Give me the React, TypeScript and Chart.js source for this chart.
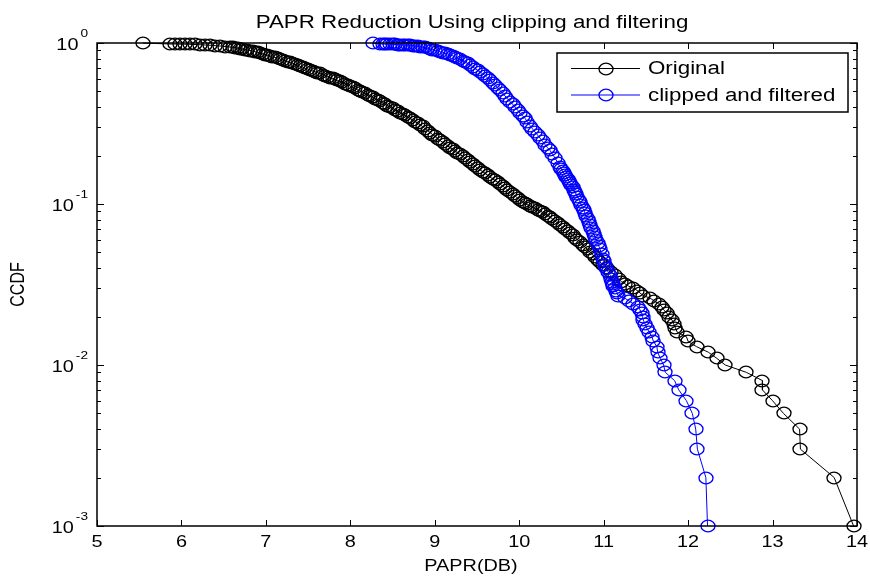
import { useEffect, useRef } from "react";
import { Chart, registerables } from "chart.js";

Chart.register(...registerables);

// ---- data (x = PAPR in dB, y = CCDF) ----
const originalCurve: [number, number][] = [
  [5.545, 0.999], [5.865, 0.986], [5.924, 0.986], [5.983, 0.984], [6.042, 0.983], [6.101, 0.982],
  [6.161, 0.979], [6.22, 0.976], [6.279, 0.972], [6.338, 0.968], [6.397, 0.963], [6.457, 0.958],
  [6.516, 0.951], [6.575, 0.944], [6.605, 0.94], [6.634, 0.935], [6.664, 0.93], [6.694, 0.924],
  [6.723, 0.918], [6.753, 0.911], [6.782, 0.905], [6.812, 0.898], [6.842, 0.891], [6.871, 0.883],
  [6.901, 0.875], [6.93, 0.867], [6.96, 0.858], [6.99, 0.848], [7.019, 0.839], [7.049, 0.83],
  [7.078, 0.822], [7.108, 0.813], [7.138, 0.804], [7.167, 0.795], [7.197, 0.786], [7.227, 0.776],
  [7.256, 0.767], [7.286, 0.757], [7.315, 0.747], [7.345, 0.736], [7.375, 0.727], [7.404, 0.717],
  [7.434, 0.707], [7.463, 0.697], [7.493, 0.689], [7.522, 0.68], [7.552, 0.672], [7.582, 0.663],
  [7.611, 0.655], [7.641, 0.647], [7.671, 0.637], [7.7, 0.628], [7.73, 0.619], [7.759, 0.61],
  [7.789, 0.602], [7.818, 0.594], [7.848, 0.586], [7.878, 0.578], [7.907, 0.569], [7.937, 0.56],
  [7.967, 0.55], [7.996, 0.541], [8.026, 0.531], [8.055, 0.522], [8.085, 0.513], [8.115, 0.503],
  [8.144, 0.495], [8.174, 0.486], [8.204, 0.477], [8.233, 0.469], [8.263, 0.46], [8.292, 0.451],
  [8.322, 0.443], [8.351, 0.434], [8.381, 0.426], [8.411, 0.417], [8.44, 0.409], [8.47, 0.4],
  [8.5, 0.393], [8.529, 0.385], [8.559, 0.378], [8.588, 0.37], [8.618, 0.362], [8.647, 0.355],
  [8.677, 0.347], [8.707, 0.34], [8.737, 0.332], [8.766, 0.325], [8.796, 0.318], [8.825, 0.311],
  [8.855, 0.303], [8.884, 0.294], [8.914, 0.286], [8.944, 0.278], [8.973, 0.27], [9.003, 0.263],
  [9.033, 0.255], [9.062, 0.248], [9.092, 0.242], [9.121, 0.236], [9.151, 0.23], [9.18, 0.224],
  [9.21, 0.219], [9.24, 0.213], [9.269, 0.208], [9.299, 0.203], [9.329, 0.198], [9.358, 0.193],
  [9.388, 0.187], [9.417, 0.182], [9.447, 0.177], [9.476, 0.172], [9.506, 0.167], [9.536, 0.163],
  [9.566, 0.159], [9.595, 0.155], [9.625, 0.151], [9.654, 0.147], [9.684, 0.1435], [9.713, 0.14],
  [9.743, 0.1365], [9.773, 0.133], [9.802, 0.1294], [9.832, 0.126], [9.861, 0.1222], [9.891, 0.119],
  [9.921, 0.1154], [9.95, 0.112], [9.98, 0.109], [10.009, 0.106], [10.039, 0.1036], [10.069, 0.101],
  [10.098, 0.0993], [10.128, 0.0972], [10.157, 0.0954], [10.187, 0.0938], [10.217, 0.0921],
  [10.246, 0.0905], [10.276, 0.0886], [10.306, 0.0867], [10.335, 0.0848], [10.365, 0.083],
  [10.394, 0.0807], [10.424, 0.0784], [10.454, 0.0762], [10.483, 0.0741], [10.513, 0.072],
  [10.542, 0.0699], [10.572, 0.068], [10.602, 0.066], [10.631, 0.064], [10.661, 0.0619],
  [10.69, 0.06], [10.72, 0.0581], [10.75, 0.056], [10.779, 0.0541], [10.809, 0.0522],
  [10.838, 0.0503], [10.868, 0.0486], [10.898, 0.0469], [10.927, 0.0452], [10.957, 0.0436],
  [10.99, 0.042], [11.04, 0.04], [11.09, 0.038], [11.13, 0.036], [11.18, 0.034], [11.21, 0.033],
  [11.25, 0.032], [11.29, 0.031], [11.35, 0.03], [11.4, 0.029], [11.43, 0.028], [11.47, 0.027],
  [11.55, 0.026], [11.6, 0.025], [11.65, 0.024], [11.69, 0.023], [11.71, 0.022], [11.75, 0.021],
  [11.77, 0.02], [11.81, 0.019], [11.83, 0.018], [11.85, 0.017], [11.87, 0.016], [11.98, 0.015],
  [12.0, 0.014], [12.1, 0.013], [12.24, 0.012], [12.34, 0.011], [12.44, 0.01], [12.69, 0.009],
  [12.88, 0.008], [12.88, 0.007], [13.0, 0.006], [13.13, 0.005], [13.32, 0.004], [13.33, 0.003],
  [13.73, 0.002], [13.96, 0.001],
];

const clippedCurve: [number, number][] = [
  [8.27, 0.999], [8.351, 0.986], [8.381, 0.985], [8.411, 0.984], [8.44, 0.983], [8.47, 0.982],
  [8.5, 0.98], [8.529, 0.979], [8.559, 0.977], [8.588, 0.975], [8.618, 0.972], [8.647, 0.97],
  [8.677, 0.968], [8.707, 0.965], [8.737, 0.961], [8.766, 0.958], [8.796, 0.953], [8.825, 0.948],
  [8.855, 0.943], [8.884, 0.938], [8.914, 0.929], [8.944, 0.92], [8.973, 0.911], [9.003, 0.902],
  [9.033, 0.892], [9.062, 0.882], [9.092, 0.872], [9.121, 0.863], [9.151, 0.856], [9.18, 0.848],
  [9.21, 0.835], [9.24, 0.821], [9.269, 0.807], [9.299, 0.793], [9.329, 0.777], [9.358, 0.762],
  [9.388, 0.746], [9.417, 0.73], [9.447, 0.712], [9.476, 0.694], [9.506, 0.677], [9.536, 0.661],
  [9.566, 0.644], [9.595, 0.628], [9.625, 0.608], [9.654, 0.589], [9.684, 0.568], [9.713, 0.548],
  [9.743, 0.527], [9.773, 0.507], [9.802, 0.488], [9.832, 0.469], [9.861, 0.451], [9.891, 0.433],
  [9.921, 0.417], [9.95, 0.4], [9.98, 0.384], [10.009, 0.367], [10.039, 0.354], [10.069, 0.34],
  [10.098, 0.323], [10.128, 0.307], [10.157, 0.293], [10.187, 0.28], [10.217, 0.268],
  [10.246, 0.257], [10.276, 0.245], [10.306, 0.234], [10.335, 0.224], [10.365, 0.215],
  [10.394, 0.204], [10.424, 0.193], [10.454, 0.181], [10.483, 0.17], [10.498, 0.165],
  [10.513, 0.16], [10.528, 0.1558], [10.542, 0.151], [10.557, 0.1471], [10.572, 0.143],
  [10.587, 0.1389], [10.602, 0.135], [10.616, 0.1308], [10.631, 0.127], [10.646, 0.1226],
  [10.661, 0.119], [10.675, 0.1146], [10.69, 0.111], [10.705, 0.1066], [10.72, 0.103],
  [10.735, 0.0989], [10.75, 0.0951], [10.764, 0.0915], [10.779, 0.0879], [10.794, 0.0842],
  [10.809, 0.0807], [10.824, 0.0773], [10.838, 0.0741], [10.853, 0.071], [10.868, 0.068],
  [10.883, 0.0651], [10.898, 0.0624], [10.912, 0.0598], [10.927, 0.0573], [10.942, 0.0548],
  [10.957, 0.0525], [10.975, 0.0489], [10.99, 0.0455], [11.0, 0.044], [11.02, 0.042],
  [11.03, 0.04], [11.05, 0.038], [11.08, 0.036], [11.09, 0.034], [11.1, 0.033], [11.11, 0.032],
  [11.11, 0.031], [11.13, 0.03], [11.15, 0.029], [11.16, 0.028], [11.17, 0.027], [11.25, 0.026],
  [11.3, 0.025], [11.35, 0.024], [11.41, 0.023], [11.43, 0.022], [11.45, 0.021], [11.46, 0.02],
  [11.47, 0.019], [11.49, 0.018], [11.51, 0.017], [11.54, 0.016], [11.57, 0.015], [11.59, 0.014],
  [11.63, 0.013], [11.64, 0.012], [11.67, 0.011], [11.71, 0.01], [11.73, 0.009], [11.84, 0.008],
  [11.89, 0.007], [11.98, 0.006], [12.05, 0.005], [12.09, 0.004], [12.11, 0.003], [12.21, 0.002],
  [12.23, 0.001],
];

const seriesNames = ["Original", "clipped and filtered"];
const seriesColors = ["#000000", "#0000ff"];
const xTicks = [5, 6, 7, 8, 9, 10, 11, 12, 13, 14];
const yDecades = [1, 0.1, 0.01, 0.001];
const yExponents = ["0", "-1", "-2", "-3"];
const minorMultipliers = [2, 3, 4, 5, 6, 7, 8, 9];
const titleText = "PAPR Reduction Using clipping and filtering";
const xLabelText = "PAPR(DB)";
const yLabelText = "CCDF";

const FONT = '"Liberation Sans", Arial, Helvetica, sans-serif';
const SX = 1.24; // horizontal stretch of the original picture

function makeMarker(color: string): HTMLCanvasElement {
  const c = document.createElement("canvas");
  c.width = 18;
  c.height = 14;
  const g = c.getContext("2d")!;
  g.strokeStyle = color;
  g.lineWidth = 1.35;
  g.beginPath();
  g.ellipse(9, 7, 7, 5.8, 0, 0, Math.PI * 2);
  g.stroke();
  return c;
}

function stretchedText(
  ctx: CanvasRenderingContext2D,
  text: string,
  x: number,
  y: number,
  size: number,
  align: CanvasTextAlign,
  baseline: CanvasTextBaseline = "alphabetic",
  rotate = 0
) {
  ctx.save();
  ctx.translate(x, y);
  ctx.scale(SX, 1);
  if (rotate) ctx.rotate(rotate);
  ctx.font = `${size}px ${FONT}`;
  ctx.textAlign = align;
  ctx.textBaseline = baseline;
  ctx.fillStyle = "#000";
  ctx.fillText(text, 0, 0);
  ctx.restore();
}

function measure(ctx: CanvasRenderingContext2D, text: string, size: number) {
  ctx.save();
  ctx.font = `${size}px ${FONT}`;
  const w = ctx.measureText(text).width * SX;
  ctx.restore();
  return w;
}

export default function App() {
  const ref = useRef<HTMLCanvasElement | null>(null);

  useEffect(() => {
    if (!ref.current) return;
    const markers = seriesColors.map((c) => makeMarker(c));

    const crispPlugin = {
      id: "crispMarkers",
      beforeDatasetsDraw(chart: any) {
        chart.ctx.imageSmoothingEnabled = false;
      },
      afterDatasetsDraw(chart: any) {
        chart.ctx.imageSmoothingEnabled = true;
      },
    };

    const framePlugin = {
      id: "matlabFrame",
      afterDraw(chart: any) {
        const { ctx, chartArea: a, scales } = chart;
        const xs = scales.x;
        const ys = scales.y;
        ctx.save();
        ctx.strokeStyle = "#000";
        ctx.lineWidth = 1;
        ctx.beginPath();
        for (const t of xTicks) {
          const px = Math.round(xs.getPixelForValue(t)) + 0.5;
          ctx.moveTo(px, a.bottom);
          ctx.lineTo(px, a.bottom - 6);
          ctx.moveTo(px, a.top);
          ctx.lineTo(px, a.top + 6);
        }
        for (const d of yDecades) {
          const py = Math.round(ys.getPixelForValue(d)) + 0.5;
          ctx.moveTo(a.left, py);
          ctx.lineTo(a.left + 7, py);
          ctx.moveTo(a.right, py);
          ctx.lineTo(a.right - 7, py);
          if (d < 1) {
            for (const m of minorMultipliers) {
              const pm = Math.round(ys.getPixelForValue(d * m)) + 0.5;
              ctx.moveTo(a.left, pm);
              ctx.lineTo(a.left + 4, pm);
              ctx.moveTo(a.right, pm);
              ctx.lineTo(a.right - 4, pm);
            }
          }
        }
        ctx.stroke();
        ctx.lineWidth = 1.5;
        ctx.strokeRect(a.left, a.top, a.right - a.left, a.bottom - a.top);

        for (const t of xTicks) {
          stretchedText(ctx, String(t), xs.getPixelForValue(t), a.bottom + 21, 16, "center");
        }
        const rightEdge = a.left - 9;
        yDecades.forEach((d, i) => {
          const py = ys.getPixelForValue(d);
          const ew = measure(ctx, yExponents[i], 11);
          const ex = rightEdge - ew;
          stretchedText(ctx, yExponents[i], ex, py - 6, 11, "left");
          stretchedText(ctx, "10", ex - 2, py + 7, 16, "right");
        });

        stretchedText(ctx, titleText, 472, 28, 18, "center");
        stretchedText(ctx, xLabelText, 471, 571, 16, "center");
        stretchedText(ctx, yLabelText, 24, (a.top + a.bottom) / 2, 16, "center", "alphabetic", -Math.PI / 2);

        const lx = 557, ly = 53, lw = 291, lh = 59;
        ctx.fillStyle = "#fff";
        ctx.fillRect(lx, ly, lw, lh);
        ctx.lineWidth = 1.5;
        ctx.strokeStyle = "#000";
        ctx.strokeRect(lx, ly, lw, lh);
        const rows = [68.5, 95];
        chart.data.datasets.forEach((ds: any, i: number) => {
          const y = rows[i];
          ctx.strokeStyle = seriesColors[i];
          ctx.lineWidth = 1;
          ctx.beginPath();
          ctx.moveTo(571, y);
          ctx.lineTo(640, y);
          ctx.stroke();
          const mk = markers[i];
          ctx.drawImage(mk, Math.round(606 - mk.width / 2), Math.round(y - mk.height / 2));
          stretchedText(ctx, ds.label, 648, y + 1, 18, "left", "middle");
        });
        ctx.restore();
      },
    };

    const chart = new Chart(ref.current, {
      type: "scatter",
      data: {
        datasets: [
          {
            label: seriesNames[0],
            data: originalCurve.map(([x, y]) => ({ x, y })),
            showLine: true,
            borderColor: seriesColors[0],
            borderWidth: 1,
            pointStyle: markers[0] as any,
            pointRadius: 6,
            clip: false as any,
            order: 2,
          },
          {
            label: seriesNames[1],
            data: clippedCurve.map(([x, y]) => ({ x, y })),
            showLine: true,
            borderColor: seriesColors[1],
            borderWidth: 1,
            pointStyle: markers[1] as any,
            pointRadius: 6,
            clip: false as any,
            order: 1,
          },
        ],
      },
      options: {
        responsive: false,
        animation: false,
        events: [],
        layout: { padding: { left: 97, right: 13, top: 43, bottom: 51 } },
        plugins: {
          legend: { display: false },
          title: { display: false },
          tooltip: { enabled: false },
        },
        scales: {
          x: { type: "linear", min: 5, max: 14, display: false },
          y: { type: "logarithmic", min: 0.001, max: 1, display: false },
        },
      },
      plugins: [crispPlugin, framePlugin],
    });
    return () => chart.destroy();
  }, []);

  return (
    <div style={{ position: "fixed", left: 0, top: 0, width: 870, height: 577, background: "#fff" }}>
      <canvas ref={ref} width={870} height={577} style={{ display: "block" }} />
    </div>
  );
}
